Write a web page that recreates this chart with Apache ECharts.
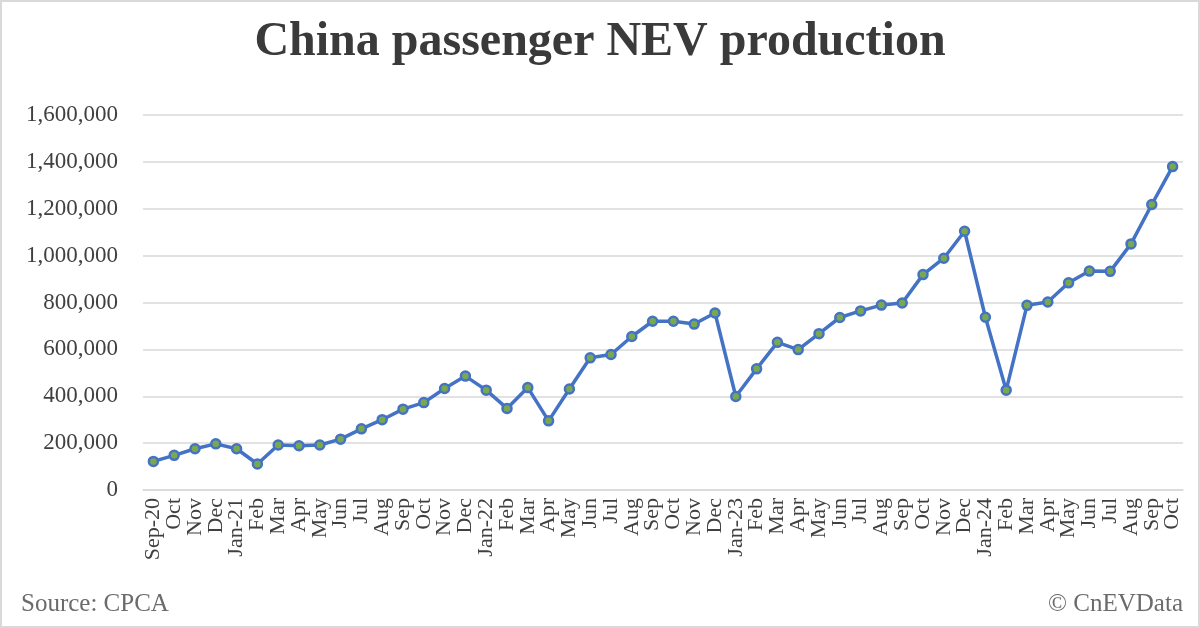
<!DOCTYPE html>
<html><head><meta charset="utf-8">
<script src="https://cdn.jsdelivr.net/npm/echarts@6/dist/echarts.min.js"></script>
<style>html,body{margin:0;padding:0;background:#fff}#c{width:1200px;height:628px;box-sizing:border-box;border:2px solid #d9d9d9}</style>
</head><body><div id="c"></div>
<script>
const categories = ["Sep-20","Oct","Nov","Dec","Jan-21","Feb","Mar","Apr","May","Jun","Jul","Aug","Sep","Oct","Nov","Dec","Jan-22","Feb","Mar","Apr","May","Jun","Jul","Aug","Sep","Oct","Nov","Dec","Jan-23","Feb","Mar","Apr","May","Jun","Jul","Aug","Sep","Oct","Nov","Dec","Jan-24","Feb","Mar","Apr","May","Jun","Jul","Aug","Sep","Oct"];
const production = [122000,148000,176000,197000,176000,111000,192000,189000,192000,217000,261000,300000,345000,373000,433000,486000,426000,348000,437000,295000,431000,564000,578000,655000,720000,720000,708000,755000,399000,517000,630000,599000,667000,736000,764000,789000,798000,919000,989000,1104000,737000,426000,788000,802000,884000,934000,933000,1050000,1218000,1380000];
const yTicks = [0,200000,400000,600000,800000,1000000,1200000,1400000,1600000];

const chart = echarts.init(document.getElementById('c'), null, {renderer:'canvas'});
const font = "'Liberation Serif','Times New Roman',serif";
chart.setOption({
  animation:false,
  title:{text:'China passenger NEV production',left:'center',top:12,
    textStyle:{fontFamily:font,fontWeight:'bold',fontSize:48,color:'#3a3a3a'}},
  graphic:[
    {type:'text',left:19,top:590,style:{text:'Source: CPCA',fontFamily:font,fontSize:25,fill:'#6b6b6b'}},
    {type:'text',right:15,top:590,style:{text:'© CnEVData',fontFamily:font,fontSize:25,fill:'#6b6b6b'}}
  ],
  grid:{left:141,right:15,top:113,bottom:136},
  xAxis:{type:'category',data:categories,boundaryGap:true,
    axisLine:{show:true,lineStyle:{color:'#d9d9d9',width:1.5}},axisTick:{show:false},
    axisLabel:{interval:0,rotate:90,fontFamily:font,fontSize:22,color:'#404040',margin:8,lineHeight:22}},
  yAxis:{type:'value',min:yTicks[0],max:yTicks[yTicks.length-1],interval:200000,
    axisLine:{show:false},axisTick:{show:false},
    splitLine:{lineStyle:{color:'#d9d9d9',width:1.5}},
    axisLabel:{fontFamily:font,fontSize:23,color:'#404040',margin:25,
      formatter:v=>v.toLocaleString('en-US')}},
  series:[{type:'line',data:production,symbol:'circle',symbolSize:9,
    lineStyle:{color:'#4472c4',width:3.5},
    itemStyle:{color:'#7aa84e',borderColor:'#4472c4',borderWidth:2.5}}]
});
</script></body></html>
